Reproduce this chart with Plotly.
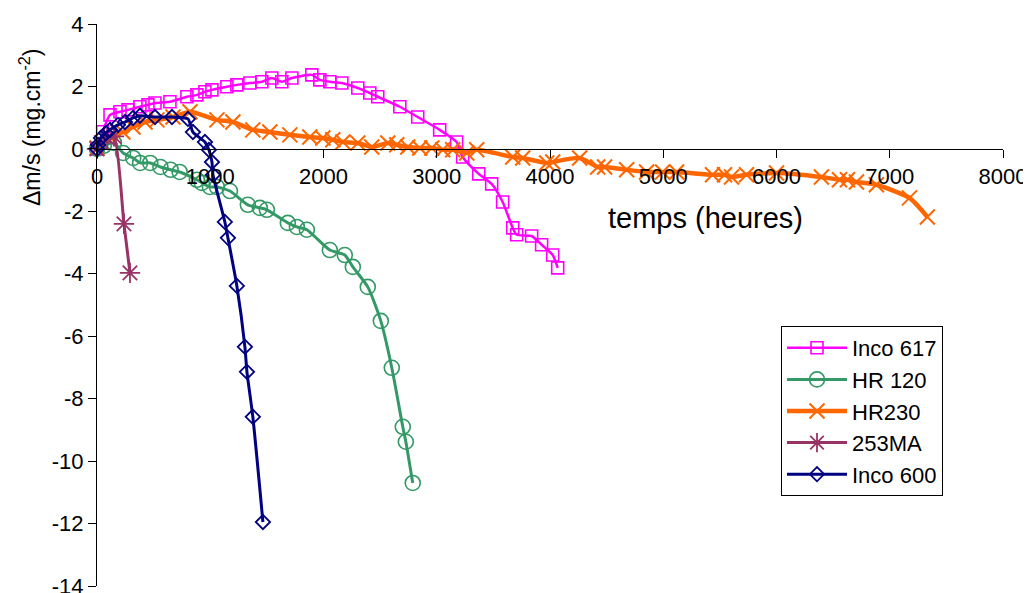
import plotly.graph_objects as go

# ---------------- data ----------------
inco617_x = [0, 50, 115, 203, 274, 379, 450, 512, 644, 794, 882, 953, 1015, 1147, 1235, 1350,
             1456, 1544, 1632, 1721, 1897, 1968, 2056, 2162, 2303, 2409, 2479, 2674, 2832,
             3026, 3176, 3229, 3371, 3485, 3582, 3671, 3706, 3838, 3926, 4024, 4068]
inco617_y = [0.0, 0.55, 1.09, 1.19, 1.25, 1.35, 1.41, 1.47, 1.51, 1.67, 1.73, 1.83, 1.89, 1.99,
             2.05, 2.11, 2.15, 2.27, 2.15, 2.27, 2.37, 2.21, 2.15, 2.11, 1.95, 1.79, 1.67, 1.35,
             1.02, 0.61, 0.22, -0.26, -0.80, -1.12, -1.70, -2.53, -2.75, -2.79, -3.07, -3.40, -3.81]

hr120_x = [0, 60, 150, 230, 320, 380, 470, 560, 650, 730, 882, 926, 997, 1059, 1174, 1332,
           1438, 1500, 1685, 1765, 1853, 2056, 2188, 2259, 2391, 2506, 2603, 2700, 2727, 2788]
hr120_y = [0.0, 0.10, 0.19, -0.13, -0.29, -0.45, -0.45, -0.58, -0.67, -0.74, -0.99, -1.09,
           -1.22, -1.22, -1.35, -1.79, -1.89, -1.95, -2.37, -2.50, -2.59, -3.24, -3.40, -3.78,
           -4.42, -5.51, -7.01, -8.90, -9.38, -10.70]

hr230_x = [0, 115, 229, 318, 424, 529, 671, 821, 1059, 1200, 1376, 1526, 1703, 1879, 1994,
           2082, 2171, 2303, 2426, 2568, 2647, 2744, 2850, 2956, 3053, 3141, 3265, 3353, 3671,
           3759, 3971, 4024, 4262, 4421, 4482, 4677, 4853, 4994, 5118, 5435, 5541, 5603, 5735,
           6000, 6397, 6556, 6627, 6706, 6882, 7174, 7332]
hr230_y = [0.03, 0.38, 0.54, 0.70, 0.86, 0.93, 1.02, 1.19, 0.93, 0.86, 0.61, 0.54, 0.45, 0.38,
           0.35, 0.29, 0.22, 0.19, 0.06, 0.19, 0.13, 0.06, 0.03, 0.03, -0.03, -0.03, -0.13,
           -0.03, -0.26, -0.29, -0.45, -0.42, -0.29, -0.58, -0.58, -0.67, -0.74, -0.74, -0.74,
           -0.83, -0.83, -0.90, -0.83, -0.77, -0.90, -0.99, -0.99, -1.06, -1.15, -1.57, -2.18]

ma253_x = [0, 40, 90, 150, 238, 291]
ma253_y = [0.0, 0.20, 0.35, 0.40, -2.40, -3.97]

inco600_x = [0, 9, 35, 79, 115, 185, 247, 318, 379, 512, 662, 803, 847, 953, 988, 1015, 1024,
             1129, 1156, 1235, 1306, 1324, 1376, 1465]
inco600_y = [0.0, 0.13, 0.35, 0.51, 0.61, 0.77, 0.86, 0.99, 1.06, 1.02, 1.02, 0.96, 0.54, 0.22,
             -0.03, -0.42, -0.83, -2.34, -2.85, -4.39, -6.34, -7.14, -8.58, -11.95]

x_ticks = [0, 1000, 2000, 3000, 4000, 5000, 6000, 7000, 8000]
y_ticks = [4, 2, 0, -2, -4, -6, -8, -10, -12, -14]
y_ticktext = ["4", "2", "0", "-2", "-4", "-6", "-8", "-10", "-12", "-14"]

FONT = "Arial, Liberation Sans, sans-serif"

series = [
    ("Inco 617", inco617_x, inco617_y, "#FF00FF", "square-open", 12, 2.5, 1.6),
    ("HR 120", hr120_x, hr120_y, "#339966", "circle-open", 15, 3, 1.6),
    ("HR230", hr230_x, hr230_y, "#FF6600", "x-thin-open", 15, 4.5, 2),
    ("253MA", ma253_x, ma253_y, "#993366", "asterisk-open", 17, 3, 1.8),
    ("Inco 600", inco600_x, inco600_y, "#000080", "diamond-open", 11, 3, 1.8),
]

fig = go.Figure()
for i, (name, xs, ys, col, sym, msize, lw, mlw) in enumerate(series):
    fig.add_trace(go.Scatter(
        x=xs, y=ys, name=name, mode="lines+markers",
        line=dict(color=col, width=lw, shape="spline", smoothing=0.6),
        marker=dict(symbol=sym, size=msize, color=col, line=dict(color=col, width=mlw)),
        cliponaxis=False, legendgroup=f"g{i}",
    ))

# page body has an 8px margin: figure is 1023x585, placed at (8,8)
fig.update_layout(
    width=1023, height=585,
    margin=dict(l=89, r=28, t=16, b=7),
    paper_bgcolor="white", plot_bgcolor="white",
    font=dict(family=FONT, size=22, color="black"),
    showlegend=True,
    legend=dict(
        x=(781 - 97) / 906, y=(586 - 326) / 562, xanchor="left", yanchor="top",
        bordercolor="black", borderwidth=1, bgcolor="white",
        font=dict(family=FONT, size=22, color="black"),
        tracegroupgap=0, itemwidth=60,
    ),
    xaxis=dict(
        range=[0, 8000], tickvals=x_ticks, showgrid=False, zeroline=False,
        showline=True, linecolor="black", linewidth=1,
        ticks="outside", ticklen=8, tickcolor="black",
        anchor="free", position=14 / 18, automargin=False,
        ticklabeloverflow="allow",
        tickfont=dict(family=FONT, size=22),
    ),
    yaxis=dict(
        range=[-14, 4], tickvals=y_ticks, ticktext=y_ticktext, showgrid=False,
        zeroline=False, showline=True, linecolor="black", linewidth=1,
        ticks="outside", ticklen=8, tickcolor="black", automargin=False,
        ticklabeloverflow="allow",
        tickfont=dict(family=FONT, size=22),
    ),
    annotations=[
        dict(text="temps (heures)", x=5374, y=-2.21, xref="x", yref="y",
             xanchor="center", yanchor="middle",
             showarrow=False, font=dict(family=FONT, size=29)),
        dict(text="Δm/s (mg.cm<sup>-2</sup>)", x=(30 - 97) / 906, y=(586 - 128) / 562,
             xref="paper", yref="paper", xanchor="center", yanchor="middle",
             textangle=-90, showarrow=False, font=dict(family=FONT, size=23)),
    ],
)

fig.write_html("out.html")
